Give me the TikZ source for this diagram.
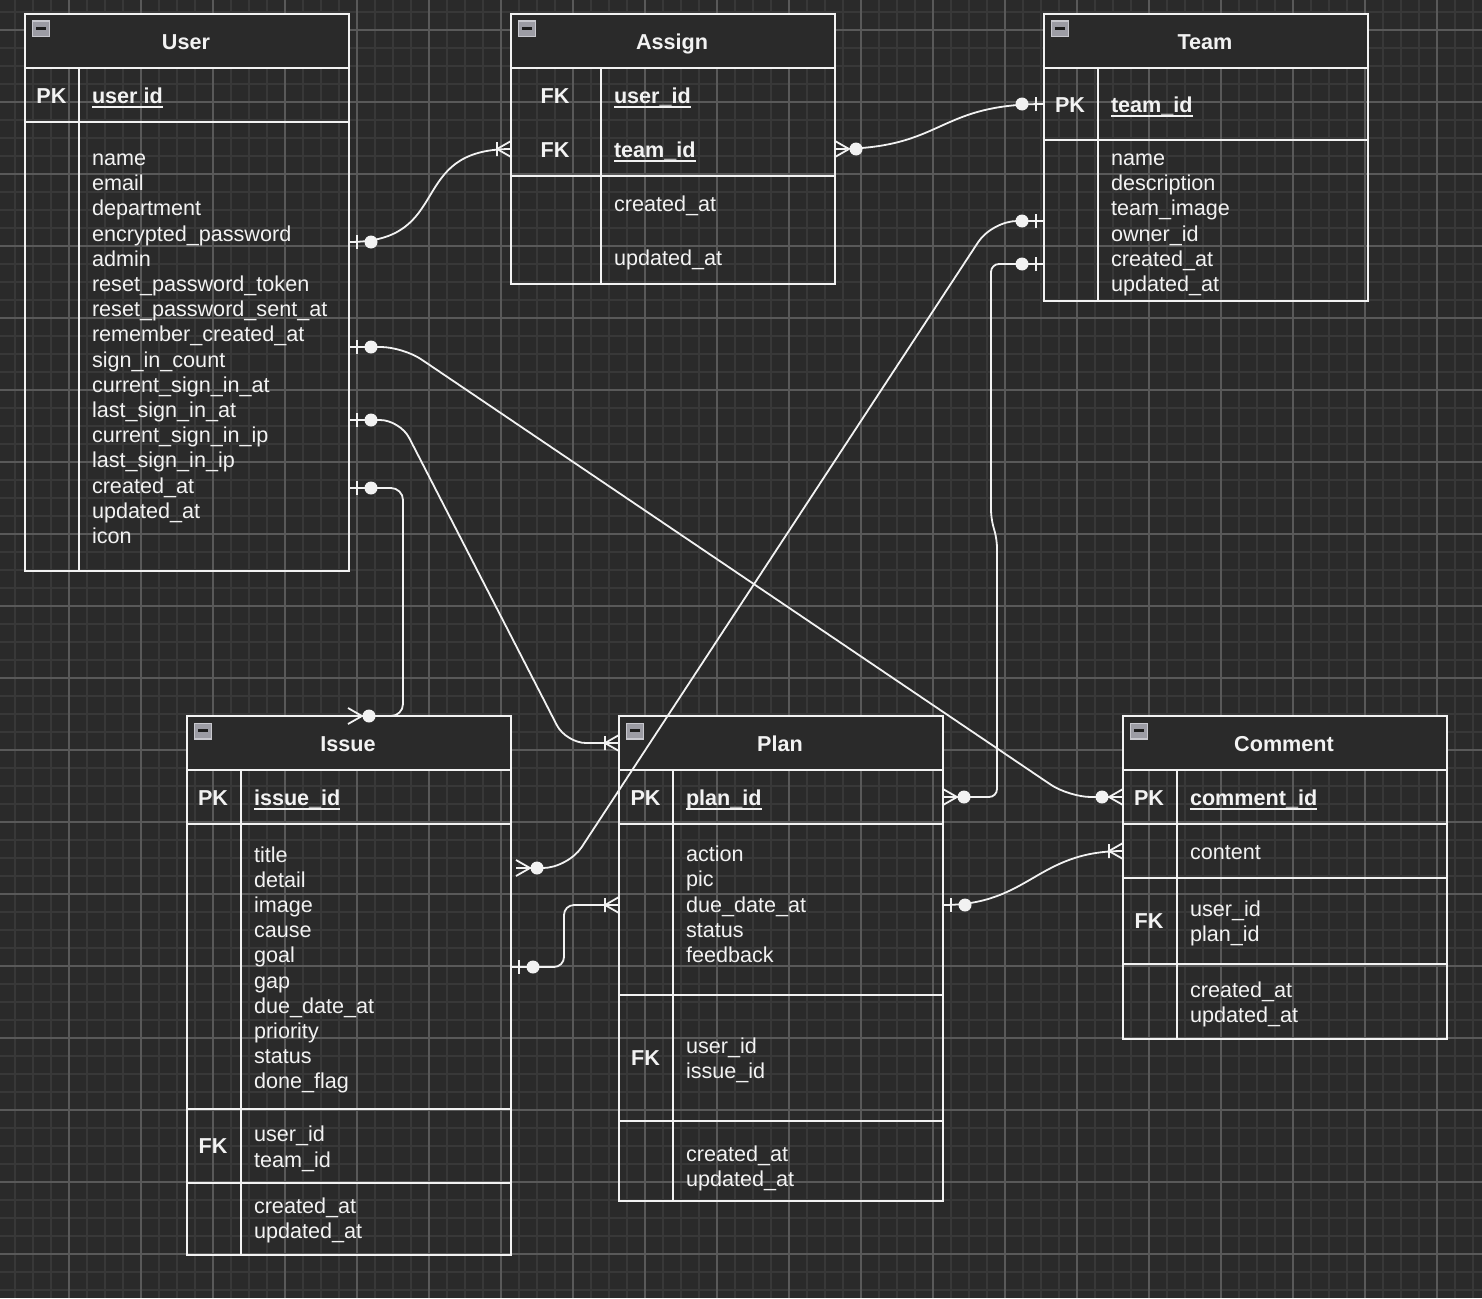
\documentclass[tikz,border=0pt]{standalone}
\usepackage{fontspec}
\setmainfont{Liberation Sans}
\definecolor{bgc}{HTML}{2A2A2A}
\definecolor{gminor}{HTML}{383838}
\definecolor{gmajor}{HTML}{595959}
\definecolor{fg}{HTML}{F2F2F2}
\definecolor{icb}{HTML}{C8C8CE}
\definecolor{ici}{HTML}{9C9CA4}
\definecolor{icbar}{HTML}{1E1E1E}
\newcommand\keyul[1]{\setbox0\hbox{#1}\rlap{\rule[-4.4pt]{\wd0}{1.6pt}}\box0}
\tikzset{
  fnt/.style={font=\fontsize{21.6}{25.2}\selectfont},
  txt/.style={fnt, text=fg, inner sep=0pt, outer sep=0pt},
  ttl/.style={txt, font=\fontsize{21.6}{25.2}\selectfont\bfseries, anchor=base},
  kl/.style={txt, font=\fontsize{21.6}{25.2}\selectfont\bfseries, anchor=base},
  kt/.style={txt, font=\fontsize{21.6}{25.2}\selectfont\bfseries, anchor=base west},
  ln/.style={txt, anchor=base west},
  body/.style={txt, anchor=north west, align=left},
  frame/.style={draw=fg, line width=1.8pt, minimum width=324pt, inner sep=0pt, outer sep=0pt, anchor=north west},
  tl/.style={draw=fg, line width=1.8pt},
  con/.style={draw=fg, line width=1.8pt},
  pics/minusicon/.style={code={
    \fill[icb] (-9,-8.5) rectangle (9,8.5);
    \fill[ici] (-7.6,-7.1) rectangle (7.6,7.1);
    \fill[icbar] (-5.4,-1.9) rectangle (5.4,0.9);}},
  pics/zeroone/.style={code={
    \draw[con] (8,-7) -- (8,7);
    \fill[fg] (22,0) circle (6.5);}},
  pics/zeromany/.style={code={
    \draw[con] (14,0) -- (0,-8) (14,0) -- (0,8);
    \fill[fg] (21,0) circle (6.5);}},
  pics/onemany/.style={code={
    \draw[con] (14,0) -- (0,-8) (14,0) -- (0,8) (14,-7) -- (14,7);}},
}
\begin{document}
\begin{tikzpicture}[x=1pt,y=-1pt]
\useasboundingbox (0,0) rectangle (1482,1298);
\fill[bgc] (0,0) rectangle (1482,1298);
% grid
\foreach \x in {-3,15,...,1490} \draw[gminor, line width=1.5pt] (\x,0) -- (\x,1298);
\foreach \y in {12,30,...,1300} \draw[gminor, line width=1.5pt] (0,\y) -- (1482,\y);
\foreach \x in {-3,69,...,1490} \draw[gmajor, line width=1.3pt] (\x,0) -- (\x,1298);
\foreach \y in {30,102,...,1300} \draw[gmajor, line width=1.3pt] (0,\y) -- (1482,\y);

% ---------------- User
\fill[bgc] (25,14) rectangle (349,68);
\node[frame, minimum height=557pt] (user) at (25,14) {};
\draw[tl] (25,68) -- (349,68) (25,122) -- (349,122) (79,68) -- (79,571);
\pic at (41,29) {minusicon};
\node[ttl] (userT) at (186,49.4) {User};
\node[kl] (userK) at (51.5,103.4) {PK};
\node[kt] (userP) at (92,103.4) {\keyul{user id}};
\node[body] (userB) at (92,147.9) {\strut name\\email\\department\\encrypted\_password\\admin\\reset\_password\_token\\reset\_password\_sent\_at\\remember\_created\_at\\sign\_in\_count\\current\_sign\_in\_at\\last\_sign\_in\_at\\current\_sign\_in\_ip\\last\_sign\_in\_ip\\created\_at\\updated\_at\\icon};

% ---------------- Assign
\fill[bgc] (511,14) rectangle (835,68);
\node[frame, minimum height=270pt] (assign) at (511,14) {};
\draw[tl] (511,68) -- (835,68) (511,176) -- (835,176) (601,68) -- (601,284);
\pic at (527,29) {minusicon};
\node[ttl] (assignT) at (672,49.4) {Assign};
\node[kl] (assignK1) at (555,103.4) {FK};
\node[kl] (assignK2) at (555,157.4) {FK};
\node[kt] (assignF1) at (614,103.4) {\keyul{user\_id}};
\node[kt] (assignF2) at (614,157.4) {\keyul{team\_id}};
\node[ln] (assignC) at (614,211.4) {created\_at};
\node[ln] (assignU) at (614,265.4) {updated\_at};

% ---------------- Team
\fill[bgc] (1044,14) rectangle (1368,68);
\node[frame, minimum height=287pt] (team) at (1044,14) {};
\draw[tl] (1044,68) -- (1368,68) (1044,140) -- (1368,140) (1098,68) -- (1098,301);
\pic at (1060,29) {minusicon};
\node[ttl] (teamT) at (1205,49.4) {Team};
\node[kl] (teamK) at (1070,112.4) {PK};
\node[kt] (teamP) at (1111,112.4) {\keyul{team\_id}};
\node[body] (teamB) at (1111,147.9) {\strut name\\description\\team\_image\\owner\_id\\created\_at\\updated\_at};

% ---------------- Issue
\fill[bgc] (187,716) rectangle (511,770);
\node[frame, minimum height=539pt] (issue) at (187,716) {};
\draw[tl] (187,770) -- (511,770) (187,824) -- (511,824) (187,1109) -- (511,1109) (187,1183) -- (511,1183) (241,770) -- (241,1255);
\pic at (203,731) {minusicon};
\node[ttl] (issueT) at (348,751.4) {Issue};
\node[kl] (issueK) at (213,805.4) {PK};
\node[kt] (issueP) at (254,805.4) {\keyul{issue\_id}};
\node[body] (issueB) at (254,844.4) {\strut title\\detail\\image\\cause\\goal\\gap\\due\_date\_at\\priority\\status\\done\_flag};
\node[kl] (issueK2) at (213,1153.7) {FK};
\node[body] (issueF) at (254,1124.2) {\strut user\_id\\team\_id};
\node[body] (issueD) at (254,1195.9) {\strut created\_at\\updated\_at};

% ---------------- Plan
\fill[bgc] (619,716) rectangle (943,770);
\node[frame, minimum height=485pt] (plan) at (619,716) {};
\draw[tl] (619,770) -- (943,770) (619,824) -- (943,824) (619,995) -- (943,995) (619,1121) -- (943,1121) (673,770) -- (673,1201);
\pic at (635,731) {minusicon};
\node[ttl] (planT) at (780,751.4) {Plan};
\node[kl] (planK) at (645.5,805.4) {PK};
\node[kt] (planP) at (686,805.4) {\keyul{plan\_id}};
\node[body] (planB) at (686,844.1) {\strut action\\pic\\due\_date\_at\\status\\feedback};
\node[kl] (planK2) at (645.5,1065) {FK};
\node[body] (planF) at (686,1035.4) {\strut user\_id\\issue\_id};
\node[body] (planD) at (686,1144.1) {\strut created\_at\\updated\_at};

% ---------------- Comment
\fill[bgc] (1123,716) rectangle (1447,770);
\node[frame, minimum height=323pt] (comment) at (1123,716) {};
\draw[tl] (1123,770) -- (1447,770) (1123,824) -- (1447,824) (1123,878) -- (1447,878) (1123,964) -- (1447,964) (1177,770) -- (1177,1039);
\pic at (1139,731) {minusicon};
\node[ttl] (commentT) at (1284,751.4) {Comment};
\node[kl] (commentK) at (1149,805.4) {PK};
\node[kt] (commentP) at (1190,805.4) {\keyul{comment\_id}};
\node[ln] (commentC) at (1190,859.4) {content};
\node[kl] (commentK2) at (1149,928.7) {FK};
\node[body] (commentF) at (1190,899.1) {\strut user\_id\\plan\_id};
\node[body] (commentD) at (1190,979.9) {\strut created\_at\\updated\_at};

% ---------------- connector end points
\coordinate (uA) at (349,242);
\coordinate (uC) at (349,347);
\coordinate (uD) at (349,420);
\coordinate (uE) at (349,488);
\coordinate (aA) at (511,149);
\coordinate (aB) at (835,149);
\coordinate (tA) at (1044,104);
\coordinate (tB) at (1044,221);
\coordinate (tC) at (1044,264);
\coordinate (iA) at (348,716);
\coordinate (iB) at (516,868);
\coordinate (iC) at (511,967);
\coordinate (pA) at (619,743);
\coordinate (pB) at (943,797);
\coordinate (pC) at (619,905);
\coordinate (pD) at (943,905);
\coordinate (cA) at (1123,797);
\coordinate (cB) at (1123,851);

% ---------------- connectors
\draw[con] (uA) .. controls (455,242) and (405,149) .. (aA);
\draw[con] (aB) .. controls (945,149) and (935,104) .. (tA);
\draw[con, rounded corners=22pt] (uC) -- (403,347) -- (1069,797) -- (cA);
\draw[con, rounded corners=20pt] (uD) -- (400,420) -- (566,743) -- (pA);
\draw[con, rounded corners=12pt] (uE) -- (403,488) -- (403,716) -- (iA);
\draw[con, rounded corners=25pt] (iB) -- (568,868) -- (992,221) -- (tB);
\draw[con, rounded corners=8pt] (tC) -- (991,264) -- (991,518) -- (997,540) -- (997,797) -- (pB);
\draw[con, rounded corners=10pt] (iC) -- (564,967) -- (564,905) -- (pC);
\draw[con] (pD) .. controls (1030,905) and (1036,851) .. (cB);

% ---------------- end markers
\pic at (uA) {zeroone};
\pic at (uC) {zeroone};
\pic at (uD) {zeroone};
\pic at (uE) {zeroone};
\pic[rotate=180] at (aA) {onemany};
\pic at (aB) {zeromany};
\pic[rotate=180] at (tA) {zeroone};
\pic[rotate=180] at (tB) {zeroone};
\pic[rotate=180] at (tC) {zeroone};
\pic at (iA) {zeromany};
\pic at (iB) {zeromany};
\pic at (iC) {zeroone};
\pic[rotate=180] at (pA) {onemany};
\pic at (pB) {zeromany};
\pic[rotate=180] at (pC) {onemany};
\pic at (pD) {zeroone};
\pic[rotate=180] at (cA) {zeromany};
\pic[rotate=180] at (cB) {onemany};
\end{tikzpicture}
\end{document}
